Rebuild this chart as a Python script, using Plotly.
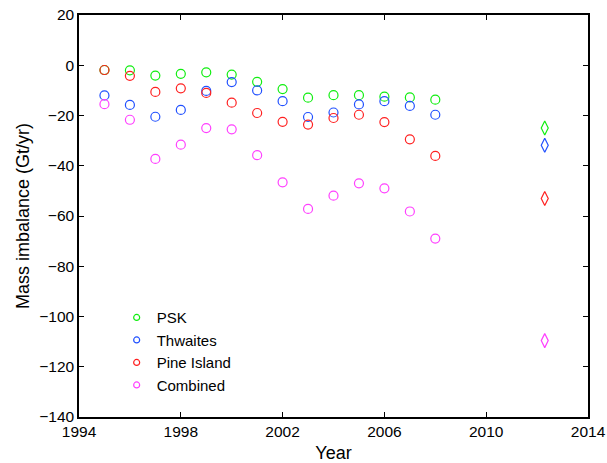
import plotly.graph_objects as go

years = [1995, 1996, 1997, 1998, 1999, 2000, 2001, 2002, 2003, 2004, 2005, 2006, 2007, 2008]
psk = [-1.9, -2.0, -4.1, -3.4, -2.8, -3.7, -6.6, -9.5, -12.9, -11.9, -11.9, -12.5, -12.8, -13.7]
thwaites = [-12.0, -15.8, -20.5, -17.8, -10.2, -6.7, -10.0, -14.3, -20.6, -18.8, -15.6, -14.3, -16.2, -19.7]
pine_island = [-1.9, -4.2, -10.6, -9.2, -11.0, -14.9, -19.0, -22.5, -23.6, -21.0, -19.7, -22.6, -29.5, -36.1]
combined = [-15.5, -21.7, -37.3, -31.6, -25.0, -25.5, -35.8, -46.6, -57.2, -51.9, -47.0, -49.0, -58.2, -69.0]

recent_year = [2012.3]
recent_psk = [-25.0]
recent_thwaites = [-31.8]
recent_pine_island = [-53.0]
recent_combined = [-109.6]

names = ["PSK", "Thwaites", "Pine Island", "Combined"]
colors = ["#10ee10", "#2050ff", "#ff2020", "#ff40ff"]
series = [psk, thwaites, pine_island, combined]
recent = [recent_psk, recent_thwaites, recent_pine_island, recent_combined]

fig = go.Figure()
for name, col, vals in zip(names, colors, series):
    fig.add_trace(go.Scatter(
        x=years, y=vals, mode="markers", name=name, showlegend=False, legendgroup=name,
        marker=dict(symbol="circle-open", size=9, color=col, line=dict(width=1.2, color=col)),
    ))
for name, col, vals in zip(names, colors, recent):
    fig.add_trace(go.Scatter(
        x=recent_year, y=vals, mode="markers", name=name, showlegend=False, legendgroup=name,
        marker=dict(symbol="diamond-tall-open", size=10, color=col, line=dict(width=1.2, color=col)),
    ))
# legend entries with the smaller legend markers of the original
for name, col in zip(names, colors):
    fig.add_trace(go.Scatter(
        x=[None], y=[None], mode="markers", name=name, legendgroup=name,
        marker=dict(symbol="circle-open", size=6, color=col, line=dict(width=1.2, color=col)),
    ))

font = "Liberation Sans, Arial, Helvetica, sans-serif"
axis_common = dict(
    showgrid=False, zeroline=False, showline=True, linecolor="black", linewidth=1.5,
    mirror="ticks", ticks="inside", ticklen=5, tickcolor="black", tickwidth=1,
    tickfont=dict(family=font, size=15.5, color="black"), automargin=False,
    ticklabeloverflow="allow",
)
fig.update_layout(
    width=607, height=463,
    margin=dict(l=79, r=19, t=15, b=46, autoexpand=False),
    paper_bgcolor="white", plot_bgcolor="white",
    font=dict(family=font, color="black"),
    xaxis=dict(range=[1994, 2014], tickvals=[1994, 1998, 2002, 2006, 2010, 2014],
               title=dict(text="Year", font=dict(family=font, size=18), standoff=7), **axis_common),
    yaxis=dict(range=[-140, 20], tickvals=list(range(-140, 21, 20)),
               title=dict(text="Mass imbalance (Gt/yr)", font=dict(family=font, size=18), standoff=5), **axis_common),
    legend=dict(x=0.074, y=0.288, xanchor="left", yanchor="top", bgcolor="rgba(0,0,0,0)",
                borderwidth=0, font=dict(family=font, size=15), tracegroupgap=0),
)
fig.write_html("out.html", config={"displayModeBar": False},
               post_script="document.body.style.margin='0';")
